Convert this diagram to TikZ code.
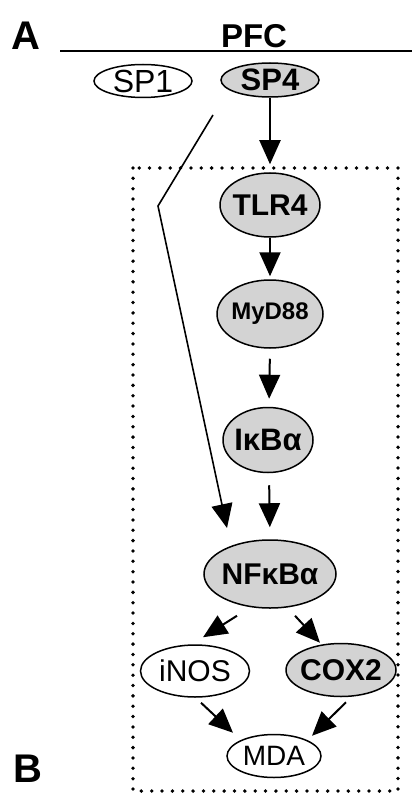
\documentclass[tikz,border=0pt]{standalone}
\usepackage{fontspec}
\setmainfont{Liberation Sans}
\usetikzlibrary{shapes.geometric,arrows.meta,calc}
\definecolor{nodegray}{RGB}{211,211,211}
% zero-width box so the ellipse size comes only from the minimum sizes
\newcommand{\inbox}[1]{\makebox[0pt]{#1}}
\newcommand{\fs}[1]{\fontsize{#1}{#1}\selectfont}

\tikzset{
  ov/.style={ellipse, draw, line width=1.5pt, inner sep=0pt, fill=white},
  gene/.style={ov, fill=nodegray},
  arr/.style={line width=2pt, -{Triangle[width=21pt,length=24pt]}},
  thin arr/.style={line width=1.6pt, -{Triangle[width=21pt,length=24pt]}},
  boxdots/.style={line width=3.8pt, line cap=round, dash pattern=on 0pt off 10.35pt}
}

\begin{document}
\begin{tikzpicture}[x=1pt, y=-1pt]
  \path[use as bounding box] (0,0) rectangle (412,794);

  % panel letters and header
  \node[font=\fs{40}\bfseries] (labA) at (26,36) {A};
  \node[font=\fs{40}\bfseries] (labB) at (28,769) {B};
  \node[font=\fs{33}\bfseries] (pfc) at (254,36) {PFC};
  \coordinate (hl) at (60,51);
  \coordinate (hr) at (412,51);
  \draw[line width=1.5pt] (hl) -- (hr);

  % dotted region
  \draw[boxdots] (133,168) rectangle (398,791);

  % nodes
  \node[ov, minimum width=98pt, minimum height=33pt, font=\fs{32}] (SP1) at (143,81) {\inbox{SP1}};
  \node[gene, minimum width=98pt, minimum height=34pt, font=\fs{31}\bfseries] (SP4) at (270,80) {\inbox{SP4}};
  \node[gene, minimum width=100pt, minimum height=64pt, font=\fs{30}\bfseries] (TLR4) at (270,205) {\inbox{TLR4}};
  \node[gene, minimum width=106pt, minimum height=68pt, font=\fs{24}\bfseries] (MYD) at (270,314) {\inbox{MyD88}};
  \node[gene, minimum width=90pt, minimum height=65pt, font=\fs{31}\bfseries] (IKB) at (268,440) {\inbox{IκBα}};
  \node[gene, minimum width=132pt, minimum height=68pt, font=\fs{30}\bfseries] (NF) at (270,574) {\inbox{NFκBα}};
  \node[ov, minimum width=109pt, minimum height=52pt, font=\fs{30}] (INOS) at (195,671) {\inbox{iNOS}};
  \node[gene, minimum width=110pt, minimum height=53pt, font=\fs{30}\bfseries] (COX) at (341,670) {\inbox{COX2}};
  \node[ov, minimum width=94pt, minimum height=43pt, font=\fs{28}] (MDA) at (274,756) {\inbox{MDA}};

  % main cascade
  \draw[arr, shorten >=8pt] (SP4.south) -- (TLR4.north);
  \draw[arr, shorten >=3pt] (TLR4.south) -- (MYD.north);
  \draw[arr, shorten <=10pt, shorten >=8pt] (MYD.south) -- ($(IKB.north)+(1,0)$);
  \draw[arr, shorten <=12pt, shorten >=12pt] ($(IKB.south)+(1,0)$) -- (NF.north);

  % SP4 acting directly on NFkBa
  \coordinate (k1) at (213,115);
  \coordinate (k2) at (158,206);
  \coordinate (nfin) at (227,528);
  \draw[thin arr, line join=miter] (k1) -- (k2) -- (nfin);

  % branches
  \draw[arr] ($(NF.south)+(-33,7)$) -- ($(INOS.north)+(8,-7)$);
  \draw[arr] ($(NF.south)+(25,7)$) -- ($(COX.north)+(-21,0)$);
  \draw[arr] ($(INOS.south)+(6,5)$) -- ($(MDA.north)+(-41,-1)$);
  \draw[arr] ($(COX.south)+(5,5)$) -- ($(MDA.north)+(38,2)$);
\end{tikzpicture}
\end{document}
